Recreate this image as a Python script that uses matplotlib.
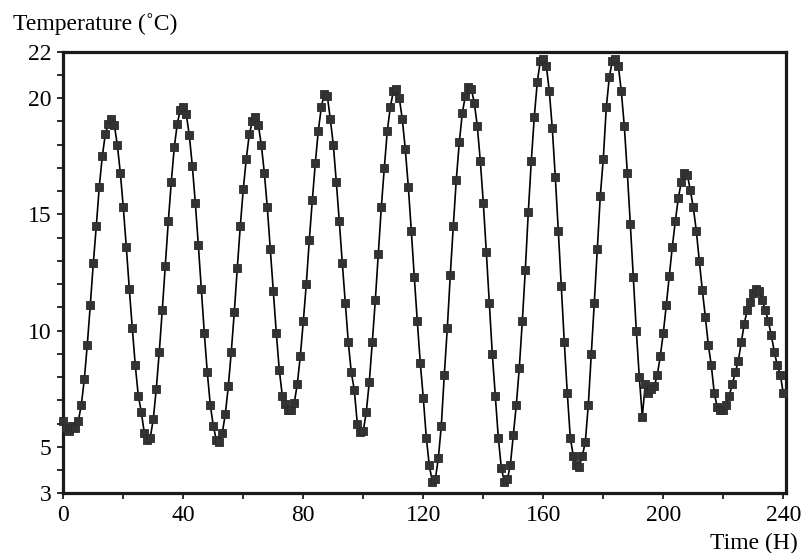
import matplotlib
matplotlib.use("Agg")
import matplotlib.pyplot as plt
import numpy as np

# Hourly temperature record, 0-240 h
hours = list(range(0, 241))
temperature = [
    6.1, 5.8, 5.7, 5.9, 5.8, 6.1, 6.8, 7.9, 9.4, 11.1,
    12.9, 14.5, 16.2, 17.5, 18.45, 18.9, 19.1, 18.85, 18.0, 16.8,
    15.3, 13.6, 11.8, 10.1, 8.5, 7.2, 6.5, 5.6, 5.3, 5.4,
    6.2, 7.5, 9.1, 10.9, 12.8, 14.7, 16.4, 17.9, 18.9, 19.5,
    19.6, 19.3, 18.4, 17.1, 15.5, 13.7, 11.8, 9.9, 8.2, 6.8,
    5.9, 5.3, 5.2, 5.6, 6.4, 7.6, 9.1, 10.8, 12.7, 14.5,
    16.1, 17.4, 18.45, 19.0, 19.2, 18.85, 18.0, 16.8, 15.3, 13.5,
    11.7, 9.9, 8.3, 7.2, 6.85, 6.6, 6.6, 6.9, 7.7, 8.9,
    10.4, 12.0, 13.9, 15.6, 17.2, 18.6, 19.6, 20.2, 20.1, 19.1,
    18.0, 16.4, 14.7, 12.9, 11.2, 9.5, 8.2, 7.45, 6.0, 5.65,
    5.7, 6.5, 7.8, 9.5, 11.3, 13.3, 15.3, 17.0, 18.6, 19.6,
    20.3, 20.4, 20.0, 19.1, 17.8, 16.2, 14.3, 12.3, 10.4, 8.6,
    7.1, 5.4, 4.2, 3.5, 3.6, 4.5, 5.9, 8.1, 10.1, 12.4,
    14.5, 16.5, 18.1, 19.35, 20.1, 20.5, 20.4, 19.8, 18.8, 17.3,
    15.5, 13.4, 11.2, 9.0, 7.2, 5.4, 4.1, 3.5, 3.6, 4.2,
    5.5, 6.8, 8.4, 10.4, 12.6, 15.1, 17.3, 19.2, 20.7, 21.6,
    21.7, 21.4, 20.3, 18.7, 16.6, 14.3, 11.9, 9.5, 7.3, 5.4,
    4.6, 4.2, 4.15, 4.6, 5.2, 6.8, 9.0, 11.2, 13.5, 15.8,
    17.4, 19.6, 20.9, 21.6, 21.7, 21.4, 20.3, 18.8, 16.8, 14.6,
    12.3, 10.0, 8.0, 6.3, 7.7, 7.3, 7.5, 7.6, 8.1, 8.9,
    9.9, 11.1, 12.35, 13.6, 14.7, 15.7, 16.4, 16.8, 16.7, 16.05,
    15.3, 14.3, 13.0, 11.75, 10.6, 9.4, 8.5, 7.3, 6.7, 6.6,
    6.6, 6.8, 7.2, 7.7, 8.2, 8.7, 9.5, 10.3, 10.9, 11.25,
    11.6, 11.8, 11.7, 11.3, 10.9, 10.4, 9.8, 9.1, 8.5, 8.1,
    7.3,
]

x_ticks = list(range(0, 241, 20))
x_labels = ["0", "", "40", "", "80", "", "120", "", "160", "", "200", "", "240"]
y_ticks = list(range(3, 23))
y_labelled = [3, 5, 10, 15, 20, 22]

plt.rcParams["font.family"] = ["Liberation Serif", "DejaVu Serif"]

W, H = 801, 553
fig = plt.figure(figsize=(W / 100, H / 100), dpi=100)
fig.patch.set_facecolor("white")
ax = fig.add_axes([63.3 / W, (H - 493.3) / H, 723 / W, 441.6 / H])

ax.plot(hours, temperature, color="black", linewidth=1.2, zorder=2)
ax.plot(hours, temperature, linestyle="none", marker="s", markersize=6.3,
        markerfacecolor="#333333", markeredgecolor="#2a2a2a",
        markeredgewidth=0.6, zorder=3, clip_on=False)

ax.set_xlim(0, 241)
ax.set_ylim(3, 22)

ax.set_xticks(x_ticks)
ax.set_xticklabels(x_labels)
ax.set_yticks(y_ticks)
ax.set_yticklabels([str(v) if v in y_labelled else "" for v in y_ticks])

for side in ["left", "right", "top", "bottom"]:
    ax.spines[side].set_linewidth(2.3)
    ax.spines[side].set_color("#1a1a1a")

ax.tick_params(axis="both", direction="out", length=4.5, width=1.3,
               colors="#1a1a1a", labelsize=17, labelcolor="black")
ax.tick_params(axis="y", pad=4)
ax.tick_params(axis="x", pad=4)
ax.tick_params(top=False, right=False)

fig.text(13 / W, 1 - 24 / H, "Temperature (\u02daC)", fontsize=17,
         ha="left", va="center", color="black")
fig.text(798 / W, 1 - 543 / H, "Time (H)", fontsize=17,
         ha="right", va="center", color="black")

fig.savefig("out.png", dpi=100, facecolor=fig.get_facecolor())
